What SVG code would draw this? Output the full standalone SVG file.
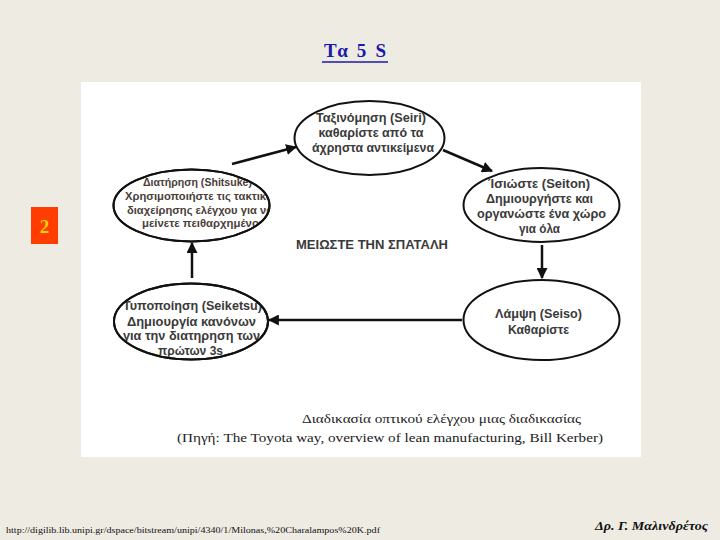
<svg xmlns="http://www.w3.org/2000/svg" width="720" height="540" viewBox="0 0 720 540">
<defs>
<style>
.bg{fill:#eeebe3}
.node ellipse{fill:#ffffff;stroke:#111;stroke-width:2}
.node ellipse.ring{fill:none}
.nt{font-family:"Liberation Sans",Arial,sans-serif;font-size:12.5px;font-weight:bold;fill:#3a3a3a;text-anchor:middle}
.nts{font-family:"Liberation Sans",Arial,sans-serif;font-size:11px;font-weight:bold;fill:#4a4038;text-anchor:middle}
.conn line{stroke:#111;stroke-width:2.5;marker-end:url(#ah)}
.cap{font-family:"Liberation Serif","Times New Roman",serif;font-size:13.5px;fill:#222;text-anchor:middle}
</style>
<marker id="ah" viewBox="0 0 10 10" refX="9" refY="5" markerWidth="4.4" markerHeight="4.4" orient="auto" markerUnits="strokeWidth">
<path d="M0,0 L10,5 L0,10 Z" fill="#111"/>
</marker>
<clipPath id="c4"><ellipse cx="191.5" cy="205.5" rx="77" ry="36"/></clipPath>
<clipPath id="c5"><ellipse cx="191" cy="321.5" rx="76" ry="37"/></clipPath>
</defs>
<rect class="bg" x="0" y="0" width="720" height="540"/>
<rect x="81" y="82" width="560" height="375" fill="#ffffff"/>

<g id="title">
<text x="355" y="57" font-family="Liberation Serif,'Times New Roman',serif" font-size="19" font-weight="bold" fill="#1a1aa8" text-anchor="middle" textLength="62" lengthAdjust="spacing">Τα 5 S</text>
<line x1="322" y1="62" x2="388" y2="62" stroke="#1a1aa8" stroke-width="1.5"/>
</g>

<g id="slide-number">
<rect x="31" y="207" width="27" height="37" fill="#ff3d00"/>
<text x="44.5" y="233" font-family="Liberation Serif,'Times New Roman',serif" font-size="19" font-weight="bold" fill="#ffd200" text-anchor="middle">2</text>
</g>

<g class="conn" id="connectors">
<line x1="232" y1="164" x2="296" y2="147"/>
<line x1="443" y1="150" x2="492" y2="171"/>
<line x1="542" y1="245" x2="542" y2="278"/>
<line x1="462" y1="320" x2="269" y2="320"/>
<line x1="192" y1="278" x2="192" y2="243"/>
</g>

<g class="node" id="seiri">
<ellipse cx="369.5" cy="138" rx="75" ry="37"/>
<text class="nt" x="371" y="121.5" textLength="110" lengthAdjust="spacingAndGlyphs">Ταξινόμηση (Seiri)</text>
<text class="nt" x="371" y="136.5" textLength="105" lengthAdjust="spacingAndGlyphs">καθαρίστε από τα</text>
<text class="nt" x="373" y="151.5" textLength="122" lengthAdjust="spacingAndGlyphs">άχρηστα αντικείμενα</text>
</g>

<g class="node" id="seiton">
<ellipse cx="541.5" cy="205" rx="78" ry="37"/>
<text class="nt" x="539" y="187.5" textLength="102" lengthAdjust="spacingAndGlyphs">Ίσιώστε (Seiton)</text>
<text class="nt" x="539.5" y="202.5" textLength="107" lengthAdjust="spacingAndGlyphs">Δημιουργήστε και</text>
<text class="nt" x="541.5" y="217.5" textLength="129" lengthAdjust="spacingAndGlyphs">οργανώστε ένα χώρο</text>
<text class="nt" x="539.5" y="233" textLength="41" lengthAdjust="spacingAndGlyphs">για όλα</text>
</g>

<g class="node" id="seiso">
<ellipse cx="541.5" cy="320" rx="78" ry="40"/>
<text class="nt" x="538.5" y="317.5" textLength="87" lengthAdjust="spacingAndGlyphs">Λάμψη (Seiso)</text>
<text class="nt" x="538.5" y="333.5" textLength="61" lengthAdjust="spacingAndGlyphs">Καθαρίστε</text>
</g>

<g class="node" id="seiketsu">
<ellipse cx="191" cy="321.5" rx="77" ry="38"/>
<g clip-path="url(#c5)">
<text class="nt" x="192.5" y="309.5" textLength="139" lengthAdjust="spacingAndGlyphs">Τυποποίηση (Seiketsu)</text>
<text class="nt" x="191.5" y="325.5" textLength="129" lengthAdjust="spacingAndGlyphs">Δημιουργία κανόνων</text>
<text class="nt" x="191.5" y="339.5" textLength="137" lengthAdjust="spacingAndGlyphs">για την διατηρηση των</text>
<text class="nt" x="190.5" y="354.5" textLength="65" lengthAdjust="spacingAndGlyphs">πρώτων 3s</text>
</g>
<ellipse class="ring" cx="191" cy="321.5" rx="77" ry="38"/>
</g>

<g class="node" id="shitsuke">
<ellipse cx="191.5" cy="205.5" rx="78" ry="36"/>
<g clip-path="url(#c4)">
<text class="nts" x="197.5" y="186" textLength="109" lengthAdjust="spacingAndGlyphs">Διατήρηση (Shitsuke)</text>
<text class="nts" x="201" y="200" textLength="152" lengthAdjust="spacingAndGlyphs">Χρησιμοποιήστε τις τακτικές</text>
<text class="nts" x="200" y="214" textLength="146" lengthAdjust="spacingAndGlyphs">διαχείρησης ελέγχου για να</text>
<text class="nts" x="202" y="227" textLength="120" lengthAdjust="spacingAndGlyphs">μείνετε πειθαρχημένοι</text>
</g>
<ellipse class="ring" cx="191.5" cy="205.5" rx="78" ry="36"/>
</g>

<g id="center-label">
<text x="372" y="248.5" font-family="Liberation Sans,Arial,sans-serif" font-size="12" font-weight="bold" fill="#3a3a3a" text-anchor="middle" textLength="152" lengthAdjust="spacingAndGlyphs">ΜΕΙΩΣΤΕ ΤΗΝ ΣΠΑΤΑΛΗ</text>
</g>

<g id="captions">
<text class="cap" x="441.5" y="422.5" textLength="279" lengthAdjust="spacingAndGlyphs">Διαδικασία οπτικού ελέγχου μιας διαδικασίας</text>
<text class="cap" x="390" y="441.5" textLength="426" lengthAdjust="spacingAndGlyphs">(Πηγή: The Toyota way, overview of lean manufacturing, Bill Kerber)</text>
</g>

<g id="footer">
<text x="6" y="533" font-family="Liberation Serif,'Times New Roman',serif" font-size="9" fill="#111" textLength="374" lengthAdjust="spacingAndGlyphs">http://digilib.lib.unipi.gr/dspace/bitstream/unipi/4340/1/Milonas,%20Charalampos%20K.pdf</text>
<text x="595" y="530" font-family="Liberation Serif,'Times New Roman',serif" font-size="13.5" font-style="italic" font-weight="bold" fill="#111" textLength="113" lengthAdjust="spacingAndGlyphs">Δρ. Γ. Μαλινδρέτος</text>
</g>
</svg>
